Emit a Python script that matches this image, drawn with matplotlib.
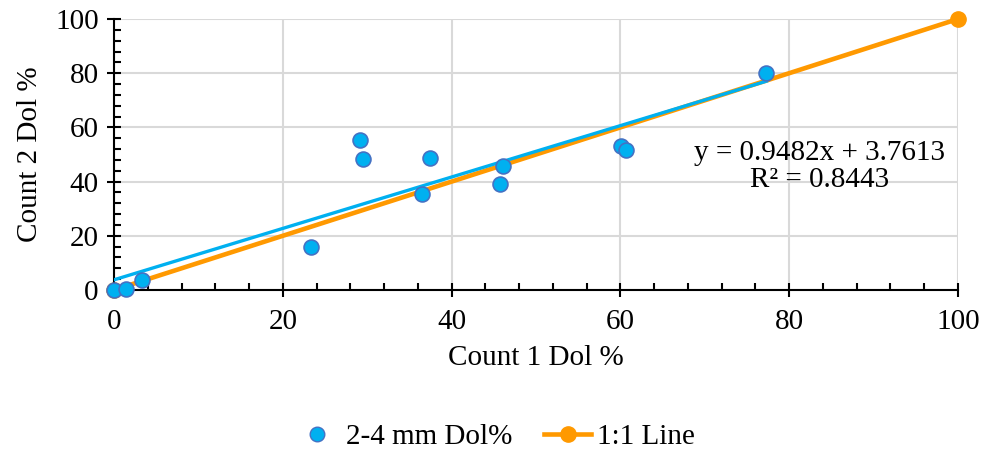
import numpy as np
import matplotlib
matplotlib.use("Agg")
import matplotlib.pyplot as plt
from matplotlib.ticker import MultipleLocator
from matplotlib.lines import Line2D

# count 1 vs count 2 dolomite percentages (2-4 mm)
count1 = [0.0, 1.4, 3.3, 23.3, 29.1, 29.5, 37.4, 36.5, 46.1, 45.7, 60.1, 60.7, 77.3]
count2 = [0.0, 0.5, 3.7, 15.9, 55.4, 48.2, 48.6, 35.4, 45.9, 39.1, 53.2, 51.7, 80.2]

one_to_one_x = [0, 100]
one_to_one_y = [0, 100]

slope = 0.9482
intercept = 3.7613
r2 = 0.8443

plt.rcParams['font.family'] = ['Liberation Serif', 'DejaVu Serif']
plt.rcParams['font.size'] = 21

fig = plt.figure(figsize=(9.84, 4.55), dpi=100)
ax = fig.add_axes([114 / 984, 1 - 290 / 455, (958 - 114) / 984, (290 - 19) / 455])

ax.grid(True, color='#d9d9d9', linewidth=1.5, zorder=0)
ax.set_axisbelow(True)

ax.plot(one_to_one_x, one_to_one_y, '-o', color='#ff9900', linewidth=3.3,
        markersize=11, zorder=2, clip_on=False)

tx = np.array([0, max(count1)])
ax.plot(tx, slope * tx + intercept, color='#00b0f0', linewidth=2.4, zorder=3)

ax.scatter(count1, count2, s=115, color='#00b0f0', edgecolors='#4472c4',
           linewidths=1.2, zorder=4, clip_on=False)

ax.set_xlim(0, 100)
ax.set_ylim(0, 100)
ax.xaxis.set_major_locator(MultipleLocator(20))
ax.yaxis.set_major_locator(MultipleLocator(20))
ax.xaxis.set_minor_locator(MultipleLocator(4))
ax.yaxis.set_minor_locator(MultipleLocator(4))
ax.tick_params(which='major', direction='inout', length=10, width=1.5, pad=6)
ax.tick_params(which='minor', direction='in', length=5, width=1.5)
ax.tick_params(axis='x', which='major', pad=9)

for s in ['top', 'right']:
    ax.spines[s].set_visible(False)
for s in ['left', 'bottom']:
    ax.spines[s].set_linewidth(1.5)

ax.set_xlabel('Count 1 Dol %', labelpad=7)
ax.set_ylabel('Count 2 Dol %', labelpad=9)

ax.text(83.6, 45.4, 'y = 0.9482x + 3.7613\nR² = 0.8443',
        ha='center', va='center', linespacing=1.05)

h = [Line2D([], [], linestyle='none', marker='o', markersize=10.5,
            markerfacecolor='#00b0f0', markeredgecolor='#4472c4'),
     Line2D([], [], color='#ff9900', linewidth=3.3, marker='o', markersize=11)]
l = ['2-4 mm Dol%', '1:1 Line']
fig.legend(h, l, loc='center', bbox_to_anchor=(494 / 984, 1 - 437 / 455),
           ncol=2, frameon=False, handlelength=1.6, columnspacing=1.1,
           handletextpad=0.2, borderpad=0)

fig.savefig('out.png', dpi=100)
